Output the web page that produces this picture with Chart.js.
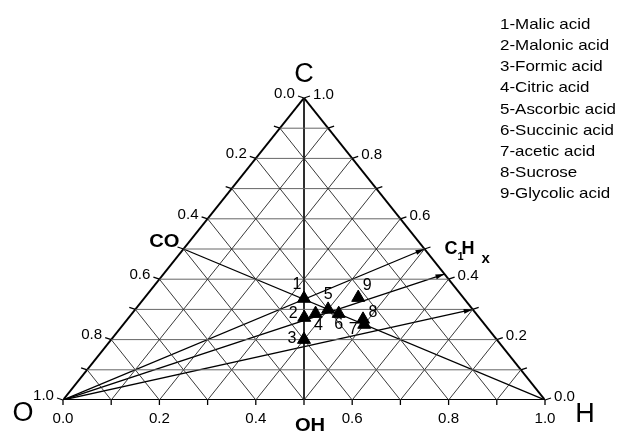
<!DOCTYPE html>
<html>
<head>
<meta charset="utf-8">
<script src="https://cdn.jsdelivr.net/npm/chart.js@4.4.1/dist/chart.umd.min.js"></script>
<style>
  html, body { margin: 0; padding: 0; background: #fff; }
  canvas { display: block; }
</style>
</head>
<body>
<canvas id="ternary" width="619" height="432"></canvas>
<script>
// compounds, in legend order
const compounds = ['Malic acid', 'Malonic acid', 'Formic acid', 'Citric acid', 'Ascorbic acid',
    'Succinic acid', 'acetic acid', 'Sucrose', 'Glycolic acid'];
// fractions (O = 1 - C - H)
const cFrac = [0.336, 0.273, 0.200, 0.286, 0.300, 0.286, 0.250, 0.267, 0.339];
const hFrac = [0.332, 0.364, 0.400, 0.381, 0.400, 0.429, 0.500, 0.489, 0.443];
// C1Hx end points on the C-H edge (C fraction) for the rays from O
const rayC = [0.500, 0.417, 0.300];
// CO point on the C-O edge (C fraction)
const coC = 0.5;
const gridSteps = [0.1, 0.2, 0.3, 0.4, 0.5, 0.6, 0.7, 0.8, 0.9];
const tickLabels = ['0.0', '0.2', '0.4', '0.6', '0.8', '1.0'];

const FONT = "'Liberation Sans', Arial, sans-serif";

// ternary -> cartesian (x along O-H base, y = C height)
function toXY(c, h) {
    return { x: h + c / 2, y: c };
}

function seg(a, b, color, width) {
    return {
        type: 'scatter',
        data: [a, b],
        showLine: true,
        borderColor: color,
        borderWidth: width,
        pointRadius: 0,
        fill: false,
        order: 2
    };
}

const datasets = [];

// triangular grid
gridSteps.forEach(v => {
    // constant C (horizontal)
    datasets.push(seg(toXY(v, 0), toXY(v, 1 - v), '#666', 1));
    // constant H (parallel to O-C edge)
    datasets.push(seg(toXY(0, v), toXY(1 - v, v), '#222', 0.9));
    // constant O (parallel to C-H edge)
    datasets.push(seg(toXY(0, 1 - v), toXY(1 - v, 0), '#222', 0.9));
});
// H = O line (vertical to OH)
datasets.push(seg(toXY(1, 0), toXY(0, 0.5), '#111', 1));

// rays from O to C1Hx points
rayC.forEach(c => datasets.push(seg(toXY(0, 0), toXY(c, 1 - c), '#000', 1.3)));
// CO -> H line
datasets.push(seg(toXY(coC, 0), toXY(0, 1), '#000', 1.3));

// triangle edges
datasets.push(seg(toXY(0, 0), toXY(0, 1), '#000', 2));
datasets.push(seg(toXY(0, 1), toXY(1, 0), '#000', 2));
datasets.push(seg(toXY(1, 0), toXY(0, 0), '#000', 2));

// compounds
datasets.unshift({
    type: 'scatter',
    data: cFrac.map((c, i) => toXY(c, hFrac[i])),
    pointStyle: 'triangle',
    pointRadius: 7.5,
    pointBackgroundColor: '#000',
    pointBorderColor: '#000',
    pointBorderWidth: 1,
    order: 0
});

// label offsets (px) for the compound numbers
const numOffsets = [[-7, -14], [-11, -4], [-12, -1], [3, 12], [0, -15], [0, 11], [-11, 5], [10, -7], [9, -12]];

function stretchText(ctx, text, x, y, sx, align) {
    ctx.save();
    ctx.translate(x, y);
    ctx.scale(sx, 1);
    ctx.textAlign = align;
    ctx.fillText(text, 0, 0);
    ctx.restore();
}

const decorations = {
    id: 'decorations',
    afterDatasetsDraw(chart) {
        const ctx = chart.ctx;
        const sx = chart.scales.x, sy = chart.scales.y;
        const px = (c, h) => {
            const p = toXY(c, h);
            return [sx.getPixelForValue(p.x), sy.getPixelForValue(p.y)];
        };
        ctx.save();
        ctx.strokeStyle = '#000';
        ctx.fillStyle = '#000';
        ctx.lineWidth = 1.3;

        // ticks on all three edges
        for (let k = 0; k <= 10; k++) {
            const v = k / 10;
            let [x, y] = px(0, v);          // bottom, H = v
            ctx.beginPath(); ctx.moveTo(x, y); ctx.lineTo(x, y + 5); ctx.stroke();
            [x, y] = px(v, 0);              // left edge, C = v
            ctx.beginPath(); ctx.moveTo(x, y); ctx.lineTo(x - 6, y - 2); ctx.stroke();
            [x, y] = px(v, 1 - v);          // right edge, C = v
            ctx.beginPath(); ctx.moveTo(x, y); ctx.lineTo(x + 6, y - 2); ctx.stroke();
        }

        // tick labels
        ctx.font = '14px ' + FONT;
        ctx.textBaseline = 'middle';
        tickLabels.forEach((t, i) => {
            const v = i / 5;
            let [x, y] = px(0, v);
            stretchText(ctx, t, x, y + 19, 1.08, 'center');
            // left edge: value = 1 - C
            [x, y] = px(1 - v, 0);
            stretchText(ctx, t, x - 9, y - 4, 1.08, 'right');
            // right edge: value = C
            [x, y] = px(v, 1 - v);
            stretchText(ctx, t, x + 9, y - 3, 1.08, 'left');
        });

        // corner letters
        ctx.font = '27px ' + FONT;
        ctx.textAlign = 'center';
        let [x, y] = px(1, 0);
        ctx.fillText('C', x, y - 23);
        [x, y] = px(0, 0);
        ctx.fillText('O', x - 40, y + 14);
        [x, y] = px(0, 1);
        ctx.fillText('H', x + 40, y + 15);

        // CO, OH, C1Hx
        ctx.font = 'bold 18px ' + FONT;
        [x, y] = px(coC, 0);
        stretchText(ctx, 'CO', x - 4, y - 7, 1.12, 'right');
        [x, y] = px(0, 0.5);
        stretchText(ctx, 'OH', x + 6, y + 26, 1.12, 'center');
        [x, y] = px(rayC[0], 1 - rayC[0]);
        stretchText(ctx, 'C', x + 20, y, 1.0, 'left');
        stretchText(ctx, 'H', x + 37, y, 1.0, 'left');
        ctx.font = 'bold 11px ' + FONT;
        stretchText(ctx, '1', x + 33, y + 8, 1.0, 'left');
        ctx.font = 'bold 15px ' + FONT;
        stretchText(ctx, 'x', x + 57, y + 10, 1.0, 'left');

        // arrowheads on the rays
        const [ox, oy] = px(0, 0);
        rayC.forEach(c => {
            const [ex, ey] = px(c, 1 - c);
            const a = Math.atan2(ey - oy, ex - ox);
            ctx.save();
            ctx.translate(ex, ey);
            ctx.rotate(a);
            ctx.beginPath();
            ctx.moveTo(0, 0);
            ctx.lineTo(-9, -2.5);
            ctx.lineTo(-9, 2.5);
            ctx.closePath();
            ctx.fill();
            ctx.restore();
        });

        // compound numbers
        ctx.font = '16px ' + FONT;
        ctx.textAlign = 'center';
        ctx.textBaseline = 'middle';
        cFrac.forEach((c, i) => {
            const [x2, y2] = px(c, hFrac[i]);
            ctx.fillText(String(i + 1), x2 + numOffsets[i][0], y2 + numOffsets[i][1]);
        });

        // legend list
        ctx.font = '15px ' + FONT;
        compounds.forEach((name, i) => {
            stretchText(ctx, (i + 1) + '-' + name, 500, 25 + 21.1 * i, 1.13, 'left');
        });
        ctx.restore();
    }
};

new Chart(document.getElementById('ternary'), {
    type: 'scatter',
    data: { datasets: datasets },
    options: {
        responsive: false,
        animation: false,
        layout: { padding: { left: 63, right: 74, top: 98, bottom: 32 } },
        scales: {
            x: { type: 'linear', min: 0, max: 1, display: false },
            y: { type: 'linear', min: 0, max: 1, display: false }
        },
        plugins: {
            legend: { display: false },
            tooltip: { enabled: false }
        }
    },
    plugins: [decorations]
});
</script>
</body>
</html>
